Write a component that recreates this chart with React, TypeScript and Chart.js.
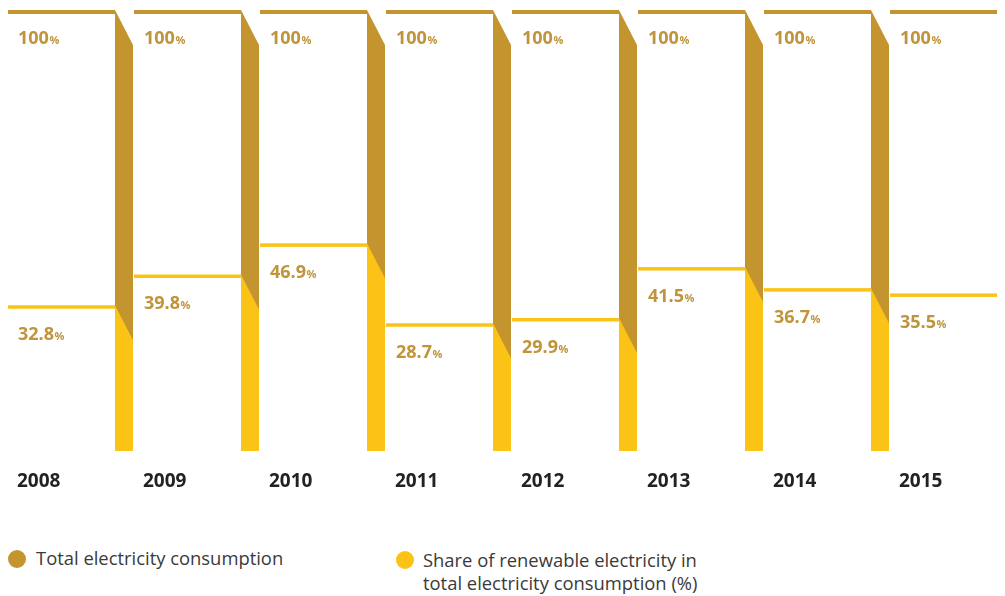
import React, { useEffect, useRef } from "react";
import { Chart, registerables } from "chart.js";

Chart.register(...registerables);

const years = ["2008", "2009", "2010", "2011", "2012", "2013", "2014", "2015"];
const totalValues = [100, 100, 100, 100, 100, 100, 100, 100];
const shareValues = [32.8, 39.8, 46.9, 28.7, 29.9, 41.5, 36.7, 35.5];
const legendTotal = ["Total electricity consumption"];
const legendShare = ["Share of renewable electricity in", "total electricity consumption (%)"];

const GOLD = "#C4952E";
const YELLOW = "#FBC315";
const LABEL_GOLD = "#C0943A";
const YEAR_COLOR = "#222222";
const LEGEND_COLOR = "#3a3a3a";

const FRONT = 107;
const SIDE = 18;
const DROP = 35;
const FONT = "'Open Sans', sans-serif";

function drawValue(ctx: CanvasRenderingContext2D, text: string, x: number, y: number) {
  ctx.textAlign = "left";
  ctx.textBaseline = "alphabetic";
  ctx.fillStyle = LABEL_GOLD;
  ctx.font = `bold 18px ${FONT}`;
  ctx.fillText(text, x, y);
  const w = ctx.measureText(text).width;
  ctx.font = `bold 11px ${FONT}`;
  ctx.fillText("%", x + w + 0.5, y);
}

const boxPlugin = {
  id: "boxes",
  afterDatasetsDraw(chart: any) {
    const ctx: CanvasRenderingContext2D = chart.ctx;
    const totMeta = chart.getDatasetMeta(0);
    const shMeta = chart.getDatasetMeta(1);
    totMeta.data.forEach((el: any, i: number) => {
      const sEl: any = shMeta.data[i];
      const { x, y, base, width } = el.getProps(["x", "y", "base", "width"], true);
      const ySh = sEl.getProps(["y"], true).y;
      const left = x - width / 2;
      const sx0 = left + FRONT;
      const sx1 = sx0 + SIDE;
      const yTop = y;
      ctx.save();
      // side face: total (gold)
      ctx.fillStyle = GOLD;
      ctx.beginPath();
      ctx.moveTo(sx0, yTop - 2);
      ctx.lineTo(sx1, yTop - 2 + DROP);
      ctx.lineTo(sx1, base);
      ctx.lineTo(sx0, base);
      ctx.closePath();
      ctx.fill();
      // side face: share (yellow)
      ctx.fillStyle = YELLOW;
      ctx.beginPath();
      ctx.moveTo(sx0, ySh - 1.75);
      ctx.lineTo(sx1, ySh - 1.75 + DROP);
      ctx.lineTo(sx1, base);
      ctx.lineTo(sx0, base);
      ctx.closePath();
      ctx.fill();
      // front lines
      ctx.fillStyle = GOLD;
      ctx.fillRect(left, yTop - 2, FRONT, 4);
      ctx.fillStyle = YELLOW;
      ctx.fillRect(left, ySh - 1.75, FRONT, 3.5);
      // value labels
      drawValue(ctx, String(totalValues[i]), left + 10, yTop + 32);
      drawValue(ctx, shareValues[i].toFixed(1), left + 10, ySh + 33);
      // year label
      ctx.font = `bold 19px ${FONT}`;
      ctx.fillStyle = YEAR_COLOR;
      ctx.textAlign = "left";
      ctx.textBaseline = "alphabetic";
      ctx.fillText(years[i], left + 9, base + 36);
      ctx.restore();
    });
  },
};

export default function App() {
  const ref = useRef<HTMLCanvasElement | null>(null);

  useEffect(() => {
    if (!ref.current) return;
    const chart = new Chart(ref.current, {
      type: "bar",
      data: {
        labels: years,
        datasets: [
          {
            label: legendTotal.join(" "),
            data: totalValues,
            backgroundColor: "rgba(0,0,0,0)",
            borderWidth: 0,
            barPercentage: 1,
            categoryPercentage: 1,
            grouped: false,
          } as any,
          {
            label: legendShare.join(" "),
            data: shareValues,
            backgroundColor: "rgba(0,0,0,0)",
            borderWidth: 0,
            barPercentage: 1,
            categoryPercentage: 1,
            grouped: false,
          } as any,
        ],
      },
      options: {
        responsive: false,
        animation: false,
        events: [],
        layout: { padding: { top: 4, bottom: 57, left: 0, right: 0 } },
        plugins: { legend: { display: false }, tooltip: { enabled: false } },
        scales: {
          x: { display: false, offset: true },
          y: { display: false, min: 0, max: 100 },
        },
      },
      plugins: [boxPlugin],
    });
    return () => chart.destroy();
  }, []);

  const textStyle: React.CSSProperties = {
    position: "absolute",
    fontFamily: FONT,
    fontSize: 18.4,
    lineHeight: "23px",
    color: LEGEND_COLOR,
    whiteSpace: "nowrap",
  };
  const dot = (color: string, left: number, top: number): React.CSSProperties => ({
    position: "absolute",
    left,
    top,
    width: 18,
    height: 18,
    borderRadius: "50%",
    background: color,
  });

  return (
    <div style={{ position: "relative", width: 997, height: 588, overflow: "hidden" }}>
      <canvas ref={ref} width={1008} height={500} style={{ display: "block", width: 1008, height: 500 }} />
      <div style={dot(GOLD, 0, 542)} />
      <div style={{ ...textStyle, left: 28, top: 538 }}>
        {legendTotal.map((l) => (
          <div key={l}>{l}</div>
        ))}
      </div>
      <div style={dot(YELLOW, 388, 543)} />
      <div style={{ ...textStyle, left: 415, top: 540 }}>
        {legendShare.map((l) => (
          <div key={l}>{l}</div>
        ))}
      </div>
    </div>
  );
}
